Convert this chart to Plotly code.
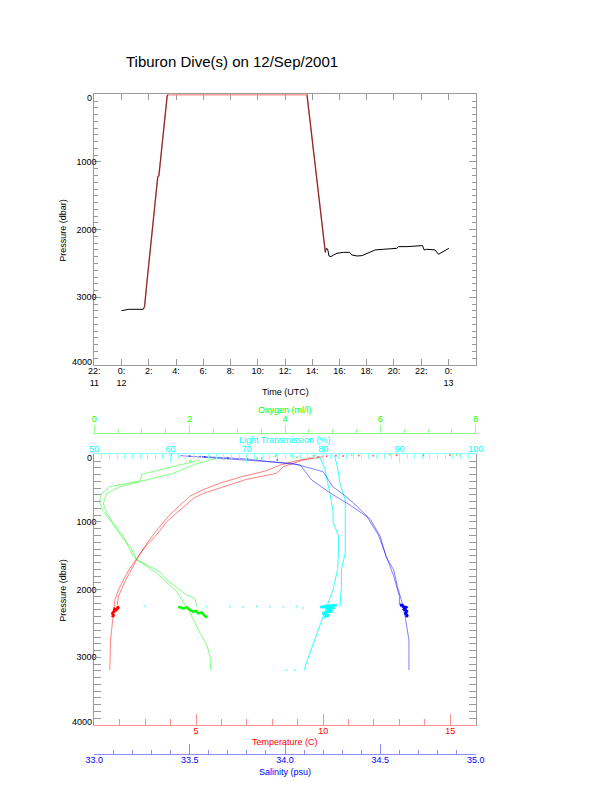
import plotly.graph_objects as go

W, H = 612, 785

# ---------------- TOP PANEL DATA: time (hours since 00:00 12/Sep) vs pressure (dbar)
bot1_time = [0.0, 0.29, 0.54, 1.59]
bot1_pres = [3197, 3187, 3177, 3177]
asc_time = [1.59, 1.69, 1.88, 2.13, 2.37, 2.66, 2.74, 2.93, 3.18, 3.35, 3.42]
asc_pres = [3177, 3138, 2744, 2251, 1759, 1217, 1207, 823, 281, 25, 0]
surf_time = [3.42, 13.61]
surf_pres = [0, 0]
desc_time = [13.61, 13.86, 14.10, 14.35, 14.59, 14.84, 14.96]
desc_pres = [0, 429, 921, 1266, 1759, 2153, 2335]
bot2_time = [14.96, 15.03, 15.13, 15.23, 15.37, 15.57, 15.81, 16.30, 16.74, 16.91, 17.28,
             17.65, 18.01, 18.38, 18.62, 19.23, 20.21, 20.34, 20.95, 22.09, 22.22, 22.41,
             23.02, 23.27, 23.51, 23.88, 24.03]
bot2_pres = [2335, 2276, 2286, 2389, 2399, 2374, 2350, 2335, 2335, 2374, 2389,
             2384, 2350, 2315, 2300, 2290, 2276, 2251, 2251, 2236, 2300, 2290,
             2300, 2364, 2340, 2300, 2276]

time_tickvals = [-2, 0, 2, 4, 6, 8, 10, 12, 14, 16, 18, 20, 22, 24]
time_ticktext = ["22:<br>11", "0:<br>12", "2:", "4:", "6:", "8:", "10:", "12:", "14:",
                 "16:", "18:", "20:", "22:", "0:<br>13"]
pres_tickvals = [0, 1000, 2000, 3000, 4000]
pres_ticktext = ["", "1000", "2000", "3000", ""]   # end labels 0 / 4000 placed below
pres_end_vals = [0, 4000]
pres_end_text = ["0", "4000"]
pres_end_shift = [-4, 3]   # px nudge of end labels, as in the reference

# ---------------- BOTTOM PANEL DATA: profiles (pressure dbar, value)
temp_a_p = [35, 84, 183, 281, 370, 478, 577, 651, 823, 995, 1217, 1340, 1537, 1685,
            1858, 2005, 2153, 2300, 2449, 2600, 2744, 2941, 3100, 3187]
temp_a_v = [10.0, 9.22, 8.43, 8.17, 6.99, 6.07, 5.29, 4.90, 4.37, 3.85, 3.39, 3.06, 2.67,
            2.40, 2.14, 1.95, 1.81, 1.76, 1.72, 1.68, 1.64, 1.62, 1.61, 1.61]
temp_b_p = [50, 100, 160, 250, 330, 420, 520, 620, 760, 900, 1100, 1300, 1500, 1700,
            1900, 2100, 2230]
temp_b_v = [9.6, 8.9, 8.3, 7.7, 6.8, 6.0, 5.3, 4.75, 4.35, 3.95, 3.5, 3.1, 2.75, 2.45,
            2.18, 1.95, 1.9]
temp_bot_p = [2252, 2276, 2262, 2301, 2290, 2325, 2350, 2375, 2409]
temp_bot_v = [1.98, 1.88, 1.95, 1.85, 1.80, 1.77, 1.72, 1.75, 1.72]
temp_surf_p = [40, 30, 22, 25, 18, 20, 14, 18, 10, 12]
temp_surf_v = [9.8, 10.14, 10.5, 10.79, 11.4, 11.97, 12.89, 13.94, 14.99, 15.4]

oxy_a_p = [60, 150, 281, 404, 478, 577, 725, 873, 1020, 1217, 1390, 1513, 1759, 2030,
           2301, 2449, 2646, 2818, 2990, 3187]
oxy_a_v = [2.57, 2.1, 1.66, 0.96, 0.54, 0.26, 0.19, 0.26, 0.40, 0.61, 0.74, 0.82, 1.31,
           1.73, 1.98, 2.08, 2.22, 2.36, 2.43, 2.44]
oxy_b_p = [84, 242, 296, 390, 478, 577, 700, 848, 971, 1217, 1390, 1562, 1734, 1857,
           2079, 2128, 2252]
oxy_b_v = [2.22, 1.31, 0.99, 0.97, 0.33, 0.155, 0.106, 0.19, 0.33, 0.57, 0.78, 0.89,
           1.38, 1.52, 1.94, 2.11, 2.15]
oxy_bot_p = [2252, 2262, 2276, 2262, 2301, 2325, 2315, 2350, 2335, 2389, 2409]
oxy_bot_v = [1.76, 1.80, 1.87, 1.94, 2.01, 2.08, 2.13, 2.18, 2.25, 2.32, 2.37]
oxy_surf_p = [94, 74, 60, 45, 30, 20, 12, 8, 10, 6]
oxy_surf_v = [2.01, 2.71, 3.41, 4.25, 3.8, 4.6, 5.4, 6.2, 6.9, 7.6]

lt_a_p = [30, 200, 430, 580, 850, 1000, 1200, 1460, 1700, 1850, 2000, 2150, 2300, 2450,
          2600, 2750, 2900, 3050, 3187]
lt_a_v = [79.5, 80.2, 80.6, 80.9, 81.3, 81.3, 82.0, 82.0, 81.9, 81.6, 81.3, 80.8, 80.3,
          79.8, 79.3, 78.9, 78.4, 77.9, 77.5]
lt_b_p = [30, 200, 430, 580, 675, 1000, 1460, 1700, 1960, 2250]
lt_b_v = [81.5, 81.9, 82.2, 82.6, 82.9, 82.9, 82.9, 82.4, 82.4, 82.2]
lt_bot_p = [2228, 2235, 2240, 2245, 2250, 2255, 2262, 2270, 2290, 2320, 2350, 2380, 2400]
lt_bot_v = [81.8, 80.9, 81.6, 80.0, 81.1, 79.6, 80.7, 81.5, 80.4, 81.2, 79.9, 80.8, 80.1]
lt_scat_p = [2245, 2250, 2248, 2255, 2245, 2252, 2260, 2248, 2270, 3187, 3187]
lt_scat_v = [56.6, 64.7, 67.8, 69.5, 71.3, 73.0, 74.8, 76.5, 77.4, 75.2, 76.3]
lt_surf_p = [10, 20, 35, 50, 60, 15, 25]
lt_surf_v = [73.9, 75.7, 77.0, 78.2, 79.2, 80.0, 78.8]

sal_a_p = [20, 50, 80, 134, 257, 478, 601, 774, 971, 1217, 1513, 1710, 1956, 2153,
           2400, 2549, 2744, 2941, 3187]
sal_a_v = [33.45, 33.6, 33.75, 34.04, 34.20, 34.25, 34.31, 34.38, 34.45, 34.50, 34.53,
           34.57, 34.59, 34.61, 34.63, 34.64, 34.65, 34.65, 34.65]
sal_b_p = [30, 70, 158, 380, 577, 749, 922, 1193, 1500, 1800, 2100, 2230]
sal_b_v = [33.55, 33.8, 34.08, 34.14, 34.24, 34.34, 34.43, 34.49, 34.53, 34.57, 34.60,
           34.60]
sal_bot_p = [2228, 2235, 2245, 2255, 2262, 2290, 2320, 2350, 2380, 2409]
sal_bot_v = [34.603, 34.621, 34.615, 34.629, 34.634, 34.625, 34.638, 34.632, 34.640, 34.638]
sal_surf_p = [10, 25, 40, 55, 70, 84, 60]
sal_surf_v = [33.40, 33.50, 33.58, 33.70, 33.80, 33.96, 33.88]

temp_ticks = [5, 10, 15]
sal_ticks = [33.0, 33.5, 34.0, 34.5, 35.0]
oxy_ticks = [0, 2, 4, 6, 8]
lt_ticks = [50, 60, 70, 80, 90, 100]

# ---------------- layout helpers
FONT = "Liberation Sans, Arial, Helvetica, sans-serif"
GRAY = "#9a9a9a"
RED, REDL = "#ff0000", "#ff8f8f"
GRN, GRNL = "#00ff00", "#8cff8c"
CYN, CYNL = "#00ffff", "#8cffff"
BLU, BLUL = "#0000ff", "#8c8cff"

def px_x(x):
    return x / W

def px_y(y):
    return 1 - y / H

XDOM = [px_x(94.3), px_x(475.7)]
TOPDOM = [px_y(365), px_y(94.3)]
BOTDOM = [px_y(725), px_y(454.3)]

fig = go.Figure()

# top panel traces
fig.add_trace(go.Scatter(x=bot1_time + asc_time, y=bot1_pres + asc_pres, mode="lines",
                         line=dict(color="black", width=1.0), xaxis="x", yaxis="y",
                         showlegend=False))
fig.add_trace(go.Scatter(x=desc_time + bot2_time, y=desc_pres + bot2_pres, mode="lines",
                         line=dict(color="black", width=1.0), xaxis="x", yaxis="y",
                         showlegend=False))
fig.add_trace(go.Scatter(x=asc_time, y=asc_pres, mode="lines",
                         line=dict(color="rgba(255,60,60,0.5)", width=1.6),
                         xaxis="x", yaxis="y", showlegend=False))
fig.add_trace(go.Scatter(x=desc_time, y=desc_pres, mode="lines",
                         line=dict(color="rgba(255,60,60,0.5)", width=1.6),
                         xaxis="x", yaxis="y", showlegend=False))
fig.add_trace(go.Scatter(x=surf_time, y=surf_pres, mode="lines",
                         line=dict(color="#ff8a8a", width=2.2),
                         xaxis="x", yaxis="y", showlegend=False))

# bottom panel traces
def prof(xs, ys, ax, color, width=0.9, opacity=0.55):
    fig.add_trace(go.Scatter(x=xs, y=ys, mode="lines", xaxis=ax, yaxis="y2",
                             line=dict(color=color, width=width), opacity=opacity,
                             showlegend=False))

def dots(xs, ys, ax, color, size=2.0):
    fig.add_trace(go.Scatter(x=xs, y=ys, mode="markers", xaxis=ax, yaxis="y2",
                             marker=dict(color=color, size=size), opacity=0.6,
                             cliponaxis=False, showlegend=False))

prof(lt_a_v, lt_a_p, "x3", CYN, 1.0, 0.8)
prof(lt_b_v, lt_b_p, "x3", CYN, 1.0, 0.8)
prof(lt_bot_v, lt_bot_p, "x3", CYN, 2.5, 1.0)
dots(lt_scat_v, lt_scat_p, "x3", CYN)
dots(lt_surf_v, lt_surf_p, "x3", CYN)

prof(oxy_a_v, oxy_a_p, "x4", GRN)
prof(oxy_b_v, oxy_b_p, "x4", GRN)
prof(oxy_bot_v, oxy_bot_p, "x4", GRN, 2.5, 1.0)
dots(oxy_surf_v, oxy_surf_p, "x4", GRN)

prof(temp_a_v, temp_a_p, "x2", RED)
prof(temp_b_v, temp_b_p, "x2", RED)
prof(temp_bot_v, temp_bot_p, "x2", RED, 3, 1.0)
dots(temp_surf_v, temp_surf_p, "x2", RED)

prof(sal_a_v, sal_a_p, "x5", BLU)
prof(sal_b_v, sal_b_p, "x5", BLU)
prof(sal_bot_v, sal_bot_p, "x5", BLU, 3, 1.0)
dots(sal_surf_v, sal_surf_p, "x5", BLU)

tickfont = dict(family=FONT, size=9, color="black")
common = dict(showgrid=False, zeroline=False, automargin=False, showline=True)

fig.update_layout(
    width=W, height=H, margin=dict(l=0, r=0, t=0, b=0, autoexpand=False),
    paper_bgcolor="white", plot_bgcolor="white",
    font=dict(family=FONT, size=9, color="black"),
    xaxis=dict(domain=XDOM, anchor="y", range=[-2, 26], tickmode="array",
               tickvals=time_tickvals, ticktext=time_ticktext, ticks="inside",
               ticklen=6, tickcolor=GRAY, linecolor=GRAY, mirror="allticks",
               tickfont=tickfont, layer="below traces", ticklabelstandoff=-3, **common),
    yaxis=dict(domain=TOPDOM, anchor="x", range=[4000, 0], tickvals=pres_tickvals,
               ticktext=pres_ticktext,
               ticks="inside", ticklen=7, tickcolor=GRAY, linecolor=GRAY,
               mirror="allticks", tickfont=tickfont, ticklabelstandoff=-5,
               minor=dict(dtick=100, ticks="inside", ticklen=4, tickcolor=GRAY),
               layer="below traces", **common),
    yaxis2=dict(domain=BOTDOM, anchor="x2", range=[4000, 0], tickvals=pres_tickvals,
                ticktext=pres_ticktext,
                ticks="inside", ticklen=7, tickcolor=GRAY, linecolor=GRAY,
                mirror="allticks", tickfont=tickfont, ticklabelstandoff=-5,
                minor=dict(dtick=100, ticks="inside", ticklen=4, tickcolor=GRAY), **common),
    xaxis2=dict(domain=XDOM, anchor="y2", range=[1, 16], side="bottom", tickvals=temp_ticks,
                ticks="inside", ticklen=11, tickcolor=REDL, linecolor=REDL,
                tickfont=dict(family=FONT, size=9, color=RED), ticklabelstandoff=-3,
                minor=dict(dtick=1, ticks="inside", ticklen=6, tickcolor=REDL), **common),
    xaxis3=dict(overlaying="x2", anchor="y2", range=[50, 100], side="top", tickvals=lt_ticks,
                ticks="inside", ticklen=9, tickcolor=CYNL, linecolor=CYNL,
                tickfont=dict(family=FONT, size=9, color=CYN), ticklabelstandoff=-2,
                minor=dict(dtick=1, ticks="inside", ticklen=5, tickcolor=CYNL), **common),
    xaxis4=dict(overlaying="x2", anchor="free", position=px_y(433.3), range=[0, 8],
                side="top", tickvals=oxy_ticks, ticks="outside", ticklen=8, tickcolor=GRNL,
                linecolor=GRNL, tickfont=dict(family=FONT, size=9, color=GRN),
                minor=dict(dtick=0.5, ticks="outside", ticklen=4, tickcolor=GRNL), **common),
    xaxis5=dict(overlaying="x2", anchor="free", position=px_y(754.3), range=[33, 35],
                side="bottom", tickvals=sal_ticks, tickformat=".1f", ticks="inside",
                ticklen=10, tickcolor=BLUL, linecolor=BLUL, ticklabelstandoff=-3,
                tickfont=dict(family=FONT, size=9, color=BLU),
                minor=dict(dtick=0.1, ticks="inside", ticklen=4, tickcolor=BLUL), **common),
)

# end tick labels of the pressure axes (0 and 4000), nudged inward like the reference
for yref in ("y", "y2"):
    for val, txt, sh in zip(pres_end_vals, pres_end_text, pres_end_shift):
        fig.add_annotation(text=txt, x=px_x(93.5), xref="paper", y=val, yref=yref,
                           yshift=sh, showarrow=False, xanchor="right", yanchor="middle",
                           font=tickfont)

def label(text, x, y, color="black", size=9, angle=0):
    fig.add_annotation(text=text, x=px_x(x), y=px_y(y), xref="paper", yref="paper",
                       showarrow=False, textangle=angle, xanchor="center", yanchor="middle",
                       font=dict(family=FONT, size=size, color=color))

fig.add_annotation(text="Tiburon Dive(s) on 12/Sep/2001", x=px_x(123.5), y=px_y(61.5),
                   xref="paper", yref="paper", showarrow=False, xanchor="left",
                   yanchor="middle", font=dict(family=FONT, size=15, color="black"))
label("Time (UTC)", 285, 392.3)
label("Pressure (dbar)", 62.7, 230, angle=-90)
label("Pressure (dbar)", 62.7, 590, angle=-90)
label("Oxygen (ml/l)", 284.7, 410, GRN)
label("Light Transmission (%)", 285, 439.5, CYN)
label("Temperature (C)", 284.7, 742.3, RED)
label("Salinity (psu)", 284.7, 771.7, BLU)

fig.write_html("out.html", config={"displayModeBar": False},
               post_script="document.body.style.margin='0';")
